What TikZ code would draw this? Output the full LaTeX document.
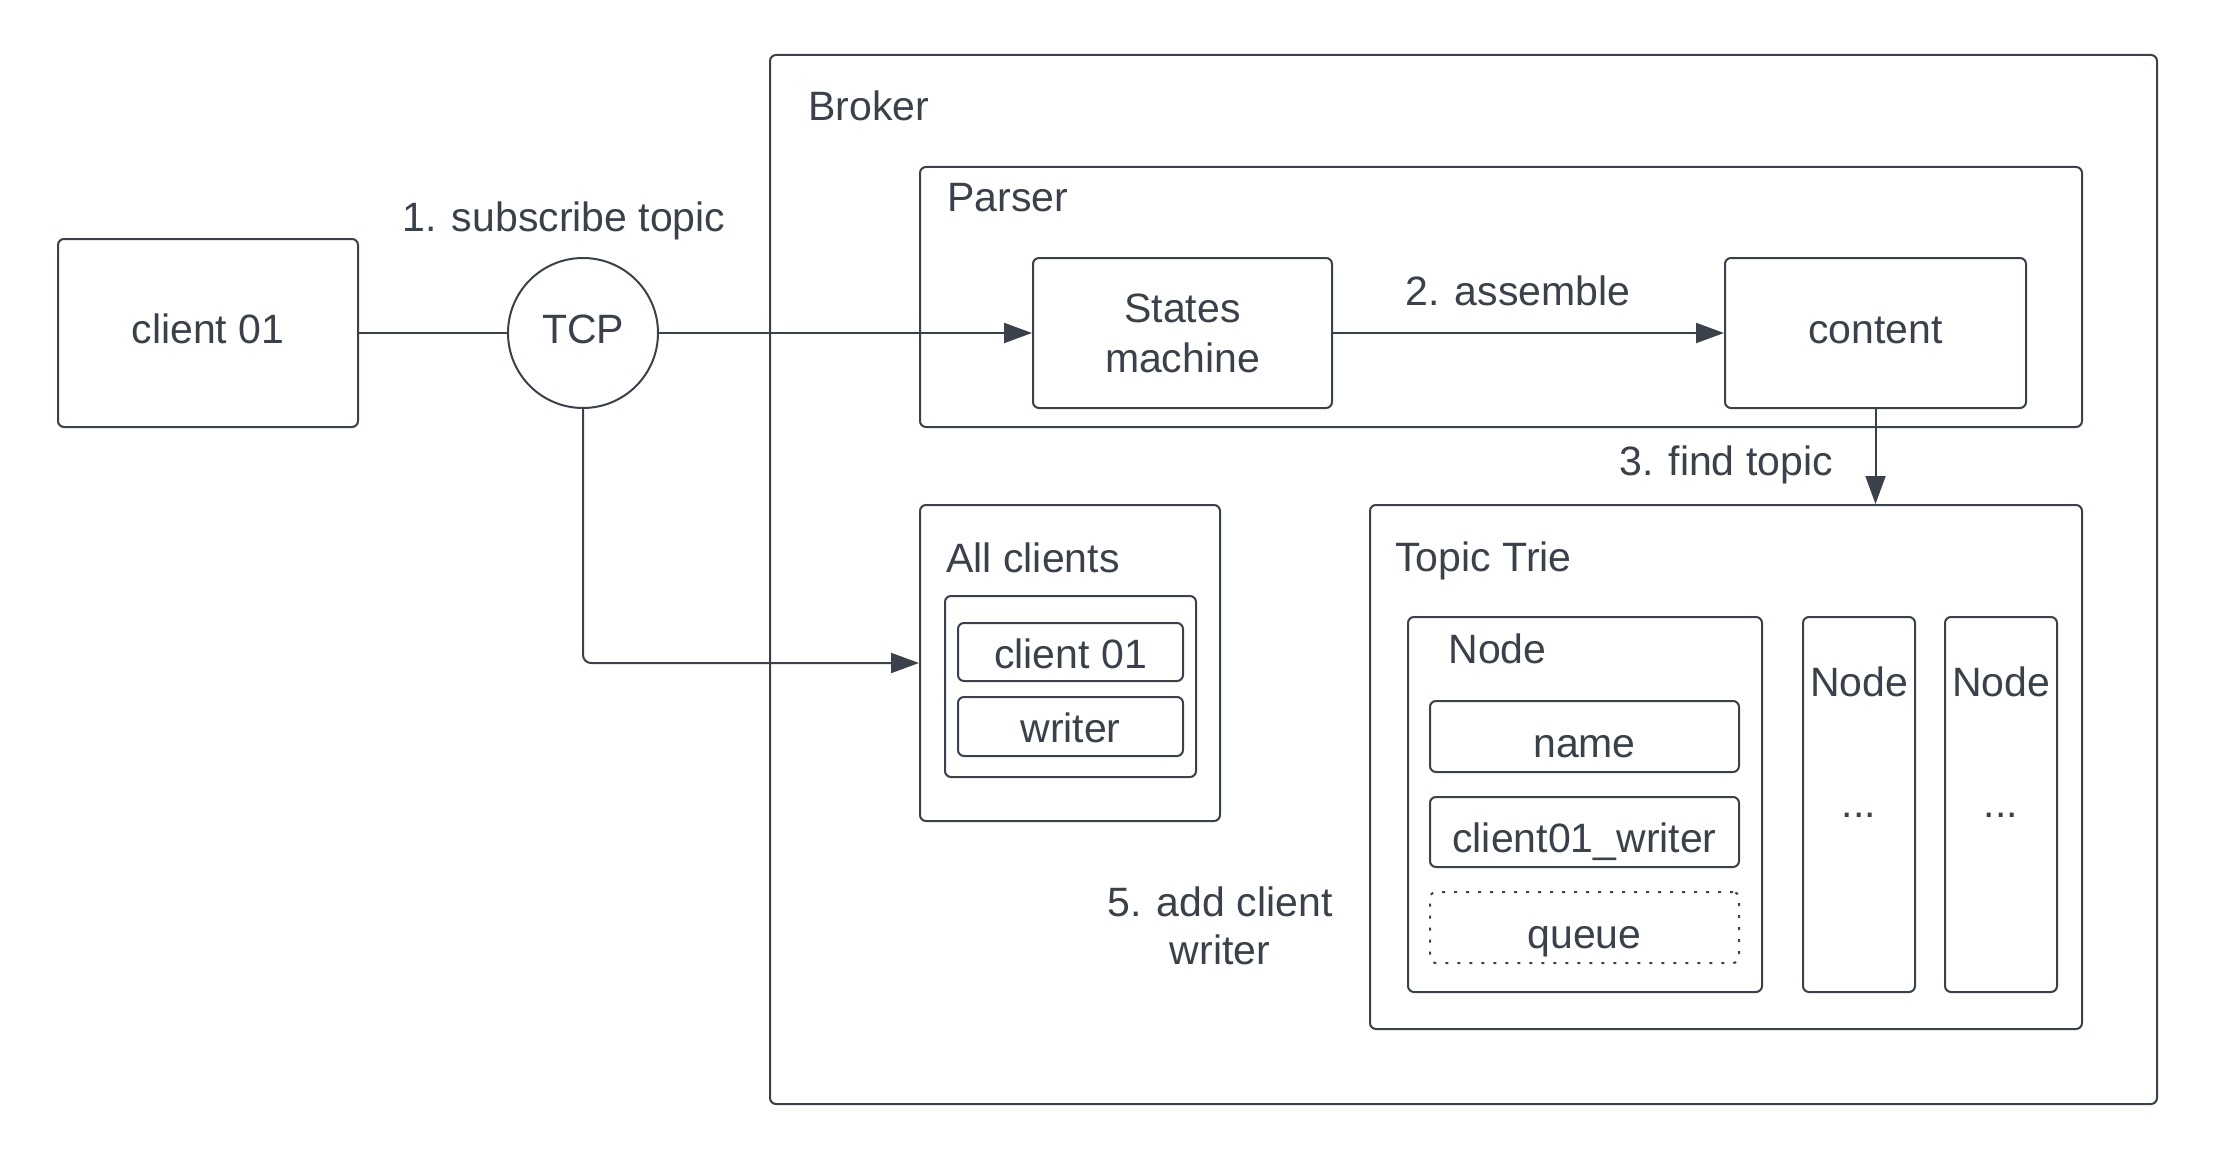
\documentclass[tikz,border=0pt]{standalone}
\usepackage{fontspec}
\setmainfont{Liberation Sans}
\usetikzlibrary{arrows.meta}
\definecolor{ink}{RGB}{58,65,74}
\begin{document}
\begin{tikzpicture}[x=0.5pt,y=-0.5pt,
  base/.style={font=\fontsize{20.5}{24}\selectfont, text=ink, inner sep=0pt},
  plainbox/.style={base, draw=ink, line width=1pt, rounded corners=3pt},
  box/.style={plainbox, text height=15.4pt, text depth=5.1pt},
  field/.style={box, minimum width=154.5pt, minimum height=35.5pt, text height=20.5pt, text depth=0pt},
  small/.style={box, minimum width=112.5pt, minimum height=29pt, text height=18.45pt, text depth=2.05pt},
  lbl/.style={base, anchor=base west},
  clbl/.style={base, anchor=base},
  arr/.style={draw=ink, line width=1pt, -{Triangle[length=14pt,width=10pt]}},
  ln/.style={draw=ink, line width=1pt}]
\useasboundingbox[fill=white] (0,0) rectangle (2224,1161);
% broker
\node[plainbox, minimum width=693.5pt, minimum height=524.5pt] (broker) at (1463.5,579.5) {};
\node[lbl] (brokerlbl) at (808,121) {Broker};
% parser
\node[plainbox, minimum width=581pt, minimum height=130pt] (parser) at (1501,297) {};
\node[lbl] (parserlbl) at (947,212) {Parser};
\node[plainbox, minimum width=149.5pt, minimum height=75pt, align=center, font=\fontsize{20.5}{25}\selectfont] (states) at (1182.5,333) {States\\machine};
\node[box, minimum width=150.5pt, minimum height=75pt] (content) at (1875.5,333) {content};
% client and tcp
\node[box, minimum width=150pt, minimum height=94pt] (client) at (208,333) {client 01};
\node[base, circle, draw=ink, line width=1pt, minimum size=75pt, text height=15.4pt, text depth=5.1pt] (tcp) at (583,333) {TCP};
% all clients
\node[plainbox, minimum width=150pt, minimum height=158pt] (allc) at (1070,663) {};
\node[lbl] (allclbl) at (946,572) {All clients};
\node[plainbox, minimum width=125.5pt, minimum height=90.5pt] (allin) at (1070.5,686.5) {};
\node[small] (c01) at (1070.5,652) {client 01};
\node[small, minimum height=29.5pt] (writer) at (1070.5,726.5) {writer};
% topic trie
\node[plainbox, minimum width=356pt, minimum height=262pt] (trie) at (1726,767) {};
\node[lbl] (trielbl) at (1395,571) {Topic Trie};
\node[plainbox, minimum width=177pt, minimum height=187.5pt] (n1) at (1585,804.5) {};
\node[lbl] (n1lbl) at (1448,663) {Node};
\node[field] (name) at (1584.5,736.5) {name};
\node[field, minimum height=35pt] (cw) at (1584.5,832) {client01\_writer};
\node[field, dash pattern=on 1.5pt off 4.5pt] (queue) at (1584.5,927.5) {queue};
\node[plainbox, minimum width=56pt, minimum height=187.5pt] (n2) at (1859,804.5) {};
\node[clbl] (n2lbl) at (1859,696) {Node};
\node[clbl] (n2dots) at (1859,817) {...};
\node[plainbox, minimum width=56pt, minimum height=187.5pt] (n3) at (2001,804.5) {};
\node[clbl] (n3lbl) at (2001,696) {Node};
\node[clbl] (n3dots) at (2001,817) {...};
% labels
\node[clbl] (l1) at (564,232) {1. subscribe topic};
\node[clbl] (l2) at (1518,306) {2. assemble};
\node[clbl] (l3) at (1726,475) {3. find topic};
\node[base, align=center] (l5) at (1220,926) {5. add client\\writer};
% connectors
\draw[ln] (client.east) -- (tcp.west);
\draw[arr] (tcp.east) -- (states.west);
\draw[arr] (states.east) -- (content.west);
\draw[arr] (content.south) -- (trie.north -| content.south);
\draw[arr, rounded corners=4pt] (tcp.south) |- (allc.west);
\end{tikzpicture}
\end{document}
